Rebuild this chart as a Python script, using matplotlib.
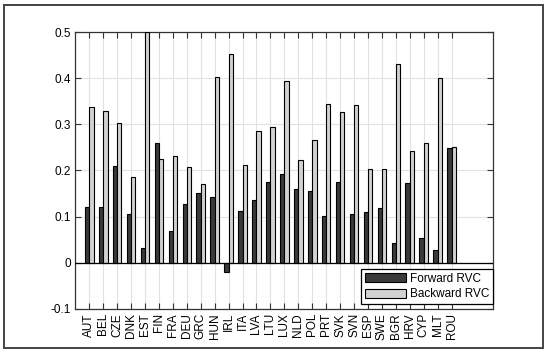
import numpy as np
import matplotlib.pyplot as plt
from matplotlib.patches import Rectangle

plt.rcParams['font.family'] = ['Liberation Sans', 'DejaVu Sans']
plt.rcParams['font.size'] = 8.5

# ── data ──────────────────────────────────────────────
countries = ['AUT', 'BEL', 'CZE', 'DNK', 'EST', 'FIN', 'FRA', 'DEU', 'GRC', 'HUN',
             'IRL', 'ITA', 'LVA', 'LTU', 'LUX', 'NLD', 'POL', 'PRT', 'SVK', 'SVN',
             'ESP', 'SWE', 'BGR', 'HRV', 'CYP', 'MLT', 'ROU']
forward_rvc = [0.120, 0.120, 0.210, 0.105, 0.032, 0.260, 0.068, 0.128, 0.152, 0.143,
               -0.019, 0.113, 0.136, 0.176, 0.193, 0.160, 0.156, 0.101, 0.176, 0.106,
               0.111, 0.118, 0.042, 0.172, 0.054, 0.027, 0.248]
backward_rvc = [0.338, 0.328, 0.302, 0.186, 0.500, 0.226, 0.232, 0.208, 0.171, 0.402,
                0.453, 0.212, 0.286, 0.295, 0.395, 0.223, 0.266, 0.345, 0.326, 0.342,
                0.204, 0.204, 0.430, 0.243, 0.259, 0.401, 0.252]
y_ticks = [-0.1, 0, 0.1, 0.2, 0.3, 0.4, 0.5]
y_ticklabels = ['-0.1', '0', '0.1', '0.2', '0.3', '0.4', '0.5']

# ── figure ────────────────────────────────────────────
fig = plt.figure(figsize=(5.5, 3.53), dpi=100)
ax = fig.add_axes([0.136, 0.125, 0.760, 0.784])

x = np.arange(1, len(countries) + 1)
w = 0.31
ax.bar(x - w / 2, forward_rvc, w, color='#3a3a3a', edgecolor='black',
       linewidth=0.8, label='Forward RVC', zorder=3)
ax.bar(x + w / 2, backward_rvc, w, color='#d2d2d2', edgecolor='black',
       linewidth=0.8, label='Backward RVC', zorder=3)
ax.axhline(0, color='black', linewidth=0.9, zorder=4)

ax.set_xlim(-0.04, 29.96)
ax.set_ylim(-0.1, 0.5)
ax.set_xticks(x)
ax.set_xticklabels(countries, rotation=90)
ax.set_yticks(y_ticks)
ax.set_yticklabels(y_ticklabels)

ax.grid(True, color='#e2e2e2', linewidth=0.8, zorder=0)
ax.set_axisbelow(True)
ax.tick_params(direction='in', length=4, width=0.8, color='#333333',
               top=True, right=True, labelsize=8.5, pad=3)
for s in ax.spines.values():
    s.set_color('#333333')
    s.set_linewidth(0.9)

leg = ax.legend(loc='lower right', bbox_to_anchor=(1.0, 0.018), borderaxespad=0,
                fancybox=False, edgecolor='black', framealpha=1, fontsize=8.5,
                handlelength=3.5, handleheight=0.75, handletextpad=0.3,
                labelspacing=0.3, borderpad=0.3)
leg.get_frame().set_linewidth(0.9)

# outer frame around the whole picture
fig.patches.append(Rectangle((4 / 550, 5 / 353), 539 / 550, 343 / 353,
                             transform=fig.transFigure, fill=False,
                             edgecolor='#444444', linewidth=1.4))

fig.savefig('out.png', dpi=100)
